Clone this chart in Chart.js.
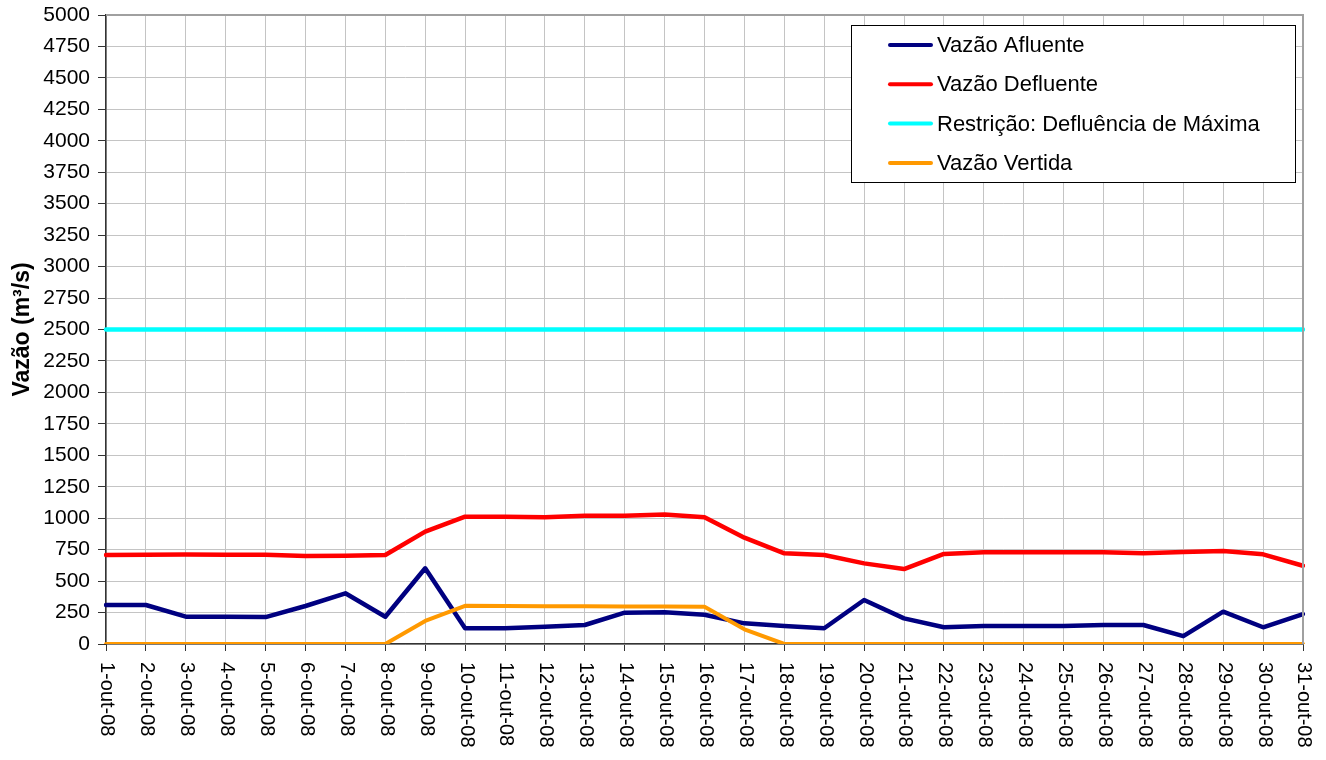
<!DOCTYPE html>
<html>
<head>
<meta charset="utf-8">
<script src="https://cdn.jsdelivr.net/npm/chart.js@4/dist/chart.umd.min.js"></script>
<style>
html,body{margin:0;padding:0;background:#fff;}
#wrap{width:1326px;height:760px;position:relative;}
</style>
</head>
<body>
<div id="wrap"><canvas id="c" width="1326" height="760"></canvas></div>
<script>
const dias = ['1-out-08','2-out-08','3-out-08','4-out-08','5-out-08','6-out-08','7-out-08','8-out-08','9-out-08','10-out-08',
'11-out-08','12-out-08','13-out-08','14-out-08','15-out-08','16-out-08','17-out-08','18-out-08','19-out-08','20-out-08',
'21-out-08','22-out-08','23-out-08','24-out-08','25-out-08','26-out-08','27-out-08','28-out-08','29-out-08','30-out-08','31-out-08'];
const vazaoAfluente = [310,310,217,217,214,302,403,217,602,125,125,138,151,249,252,232,164,143,125,350,204,133,143,143,143,151,151,62,257,133,238];
const vazaoDefluente = [707,709,711,709,709,700,701,708,893,1012,1012,1008,1020,1020,1030,1008,845,721,708,641,596,716,729,729,730,730,721,731,739,713,622];
const restricaoMaxima = [2500,2500,2500,2500,2500,2500,2500,2500,2500,2500,2500,2500,2500,2500,2500,2500,2500,2500,2500,2500,2500,2500,2500,2500,2500,2500,2500,2500,2500,2500,2500];
const vazaoVertida = [0,0,0,0,0,0,0,0,183,304,302,300,300,298,298,296,117,0,0,0,0,0,0,0,0,0,0,0,0,0,0];
const serieNomes = ['Vazão Afluente','Vazão Defluente','Restrição: Defluência de Máxima','Vazão Vertida'];
const serieCores = ['#000080','#ff0000','#00ffff','#ff9900'];
const yTitulo = 'Vazão (m³/s)';

const FONT = "'Liberation Sans', Arial, sans-serif";

const customPlugin = {
  id: 'custom',
  afterDraw(chart) {
    const ctx = chart.ctx;
    const ca = chart.chartArea;
    ctx.save();
    ctx.strokeStyle = '#a0a0a0';
    ctx.lineWidth = 2;
    ctx.beginPath();
    ctx.moveTo(ca.left, ca.top);
    ctx.lineTo(ca.right, ca.top);
    ctx.lineTo(ca.right, ca.bottom);
    ctx.stroke();
    ctx.restore();
    const xs = chart.scales.x;
    ctx.save();
    ctx.fillStyle = '#000';
    ctx.font = '20px ' + FONT;
    ctx.textAlign = 'left';
    ctx.textBaseline = 'middle';
    dias.forEach((d, i) => {
      const x = xs.getPixelForValue(i);
      ctx.save();
      ctx.translate(x + 1, ca.bottom + 18);
      ctx.rotate(Math.PI / 2);
      ctx.fillText(d, 0, 0);
      ctx.restore();
    });
    ctx.restore();
    ctx.save();
    const bx = 851.5, by = 25.5, bw = 444, bh = 157;
    ctx.fillStyle = '#fff';
    ctx.fillRect(bx, by, bw, bh);
    ctx.strokeStyle = '#000';
    ctx.lineWidth = 1;
    ctx.strokeRect(bx, by, bw, bh);
    ctx.font = '22px ' + FONT;
    ctx.textAlign = 'left';
    ctx.textBaseline = 'middle';
    chart.data.datasets.forEach((ds, i) => {
      const yy = 45 + i * 39.3;
      ctx.strokeStyle = ds.borderColor;
      ctx.lineWidth = 4;
      ctx.lineCap = 'round';
      ctx.beginPath();
      ctx.moveTo(890, yy);
      ctx.lineTo(931, yy);
      ctx.stroke();
      ctx.fillStyle = '#000';
      ctx.fillText(ds.label, 937, yy + 1);
    });
    ctx.restore();
  }
};

const mk = (i, data, ord, w) => ({
  label: serieNomes[i],
  data: data,
  borderColor: serieCores[i],
  backgroundColor: serieCores[i],
  borderWidth: w,
  pointRadius: 0,
  tension: 0,
  fill: false,
  borderCapStyle: 'round',
  borderJoinStyle: 'round',
  order: ord
});

new Chart(document.getElementById('c'), {
  type: 'line',
  data: {
    labels: dias,
    datasets: [
      mk(0, vazaoAfluente, 3, 4.5),
      mk(1, vazaoDefluente, 2, 4.5),
      mk(2, restricaoMaxima, 1, 4.5),
      mk(3, vazaoVertida, 0, 4)
    ]
  },
  options: {
    responsive: false,
    animation: false,
    devicePixelRatio: 1,
    layout: { padding: { left: 0, top: 15, right: 23, bottom: 0 } },
    plugins: { legend: { display: false }, tooltip: { enabled: false } },
    scales: {
      x: {
        offset: false,
        grid: { color: '#c4c4c4', lineWidth: 1, tickLength: 7, tickColor: '#333', drawTicks: true },
        border: { color: '#333', width: 1.5 },
        ticks: { display: false },
        afterFit(s) { s.height = 116; s.paddingLeft = 0; s.paddingRight = 0; }
      },
      y: {
        min: 0, max: 5000,
        grid: { color: '#c4c4c4', lineWidth: 1, tickLength: 8, tickColor: '#333' },
        border: { color: '#333', width: 1.5 },
        ticks: { stepSize: 250, color: '#000', font: { family: FONT, size: 21 }, padding: 8,
                 callback: (v) => String(v) },
        title: { display: true, text: yTitulo, color: '#000', font: { family: FONT, size: 23, weight: 'bold' }, padding: { top: 9, bottom: 0 } },
        afterFit(s) { s.width = 106; s.paddingTop = 0; s.paddingBottom = 0; }
      }
    }
  },
  plugins: [customPlugin]
});
</script>
</body>
</html>
